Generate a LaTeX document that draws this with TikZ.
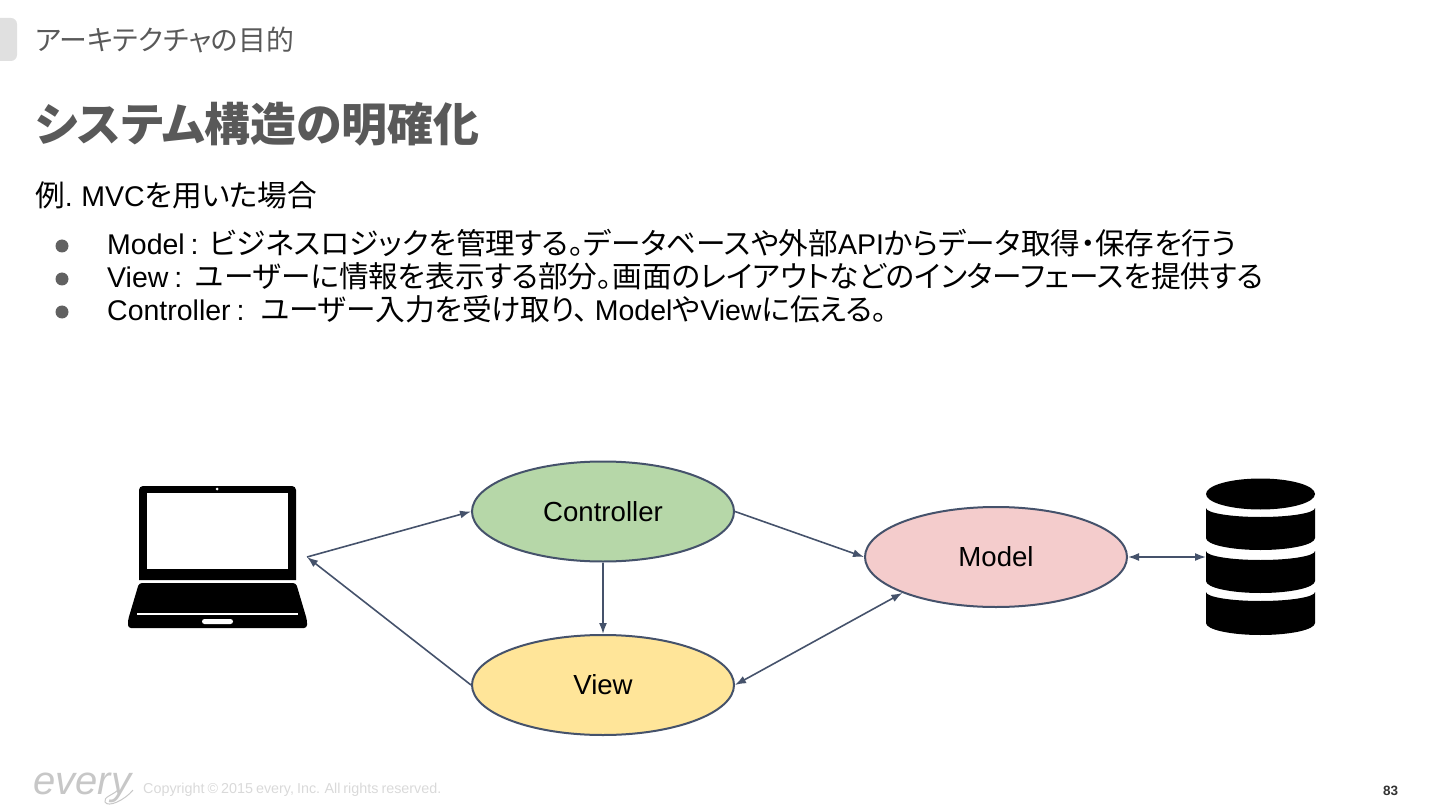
\documentclass[tikz,border=0pt]{standalone}
\usepackage{fontspec}
\usepackage{tikz}
\usetikzlibrary{calc}
\usetikzlibrary{shapes,arrows}
\usetikzlibrary{arrows.meta}
\setmainfont{Liberation Sans}[WordSpace=0.75]
\newfontfamily\cjk{Noto Sans CJK JP}[RawFeature=+palt, Scale=1.04]
\definecolor{edgeCol}{HTML}{45526B}
\definecolor{titleCol}{HTML}{595959}
\definecolor{ctrlCol}{HTML}{B6D7A8}
\definecolor{modelCol}{HTML}{F4CCCC}
\definecolor{viewCol}{HTML}{FFE599}
\newcommand{\jp}[1]{{\cjk #1}}
\tikzset{
    mvcNode/.style = {draw = edgeCol, line width = 2pt, ellipse, minimum width = 262pt, minimum height = 100pt, inner sep = 0pt, font = \fontsize{27.6}{28}\selectfont},
    textLine/.style = {anchor = base west, inner sep = 0pt, font = \fontsize{28.5}{29}\selectfont},
    link/.style = {edgeCol, line width = 1.6pt, -{Latex[length = 11pt, width = 8pt]}},
    biLink/.style = {edgeCol, line width = 1.6pt, {Latex[length = 11pt, width = 8pt]}-{Latex[length = 11pt, width = 8pt]}}
}

\begin{document}
\begin{tikzpicture}[x = 1pt, y = -1pt]
    \useasboundingbox (0,0) rectangle (1440,810);

    % header
    \fill[black!12, rounded corners = 6pt] (-10,18) rectangle (17,61);
    \node[textLine, titleCol, font = \fontsize{26.8}{27}\selectfont] (section) at (35,51) {\jp{アーキテクチャの目的}};
    \node[textLine, titleCol, font = \fontsize{44.2}{45}\selectfont\bfseries] (title) at (35,142) {\jp{システム構造の明確化}};
    \node[textLine] (intro) at (35,207) {\jp{例}. MVC\jp{を用いた場合}};

    % bullets
    \foreach \y in {246,279,312}{
        \fill[black!62] (62,\y) circle (6.5pt);
    }
    \node[textLine] (lineModel) at (107,254.5) {Model :\kern5pt\ \jp{ビジネスロジックを管理する。データベースや外部}API\jp{からデータ取得・保存を行う}};
    \node[textLine] (lineView) at (107,287.5) {View :\kern7pt\ \jp{ユーザーに情報を表示する部分。画面のレイアウトなどのインターフェースを提供する}};
    \node[textLine] (lineCtrl) at (107,320) {Controller :\kern10pt\ \jp{ユーザー入力を受け取り、}\kern6pt Model\jp{や}View\jp{に伝える。}};

    % laptop
    \fill[black, rounded corners = 4pt] (139,580) -- (139,486) -- (296,486) -- (296,580);
    \fill[white] (147,493) rectangle (288,569);
    \fill[white] (217,489) circle (1.5pt);
    \fill[black, rounded corners = 3pt] (139,583) -- (296,583) -- (307,620) -- (307,628) -- (128,628) -- (128,620) -- cycle;
    \fill[white] (137,613.3) rectangle (298,614.7);
    \fill[white, rounded corners = 2.5pt] (202,619) rectangle (233,624);
    \coordinate (laptopPort) at (307,557);

    % database
    \fill[black] (1260.5,494) ellipse (54.5pt and 15.5pt);
    \foreach \a/\b in {508/538, 551/581, 592/623}{
        \fill[black] (1206,\a) arc[start angle = 180, end angle = 0, x radius = 54.5, y radius = 9]
            -- (1315,\b) arc[start angle = 0, end angle = 180, x radius = 54.5, y radius = 12] -- cycle;
    }
    \coordinate (dbPort) at (1206,557);

    % mvc
    \node[mvcNode, fill = ctrlCol] (controller) at (603,511.5) {Controller};
    \node[mvcNode, fill = modelCol] (model) at (996,557) {Model};
    \node[mvcNode, fill = viewCol] (view) at (603,685) {View};

    \draw[link] (laptopPort) -- (controller.west);
    \draw[link] (view.west) -- (laptopPort);
    \draw[link] (controller.east) -- (model.west);
    \draw[link] (controller.south) -- (view.north);
    \draw[biLink] (view.east) -- (model.201);
    \draw[biLink] (model.east) -- (dbPort);

    % footer
    \node[textLine, black!22, font = \fontsize{40}{40}\selectfont\itshape] (logo) at (33,794) {every};
    \draw[black!22, line width = 1pt] (133,790) .. controls (125,800) and (108,808) .. (105,802) .. controls (103,797) and (113,795) .. (118,790);
    \node[textLine, black!15, font = \fontsize{14.35}{15}\selectfont] (copyright) at (143,793) {Copyright © 2015 every, Inc. All rights reserved.};
    \node[textLine, black!80, font = \fontsize{13.5}{14}\selectfont\bfseries] (page) at (1383,795) {83};
\end{tikzpicture}
\end{document}
